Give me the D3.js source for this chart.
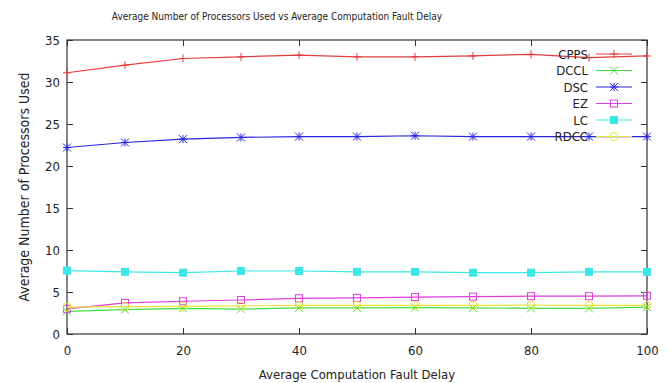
<!DOCTYPE html>
<html>
<head>
<meta charset="utf-8">
<script src="https://cdn.jsdelivr.net/npm/d3@7"></script>
<style>
  body { margin: 0; background: #fff; }
  text { font-family: "DejaVu Sans Condensed", "DejaVu Sans", sans-serif; fill: #222; }
</style>
</head>
<body>
<div id="chart"></div>
<script>
// data
var delays = [0, 10, 20, 30, 40, 50, 60, 70, 80, 90, 100];
var cpps = [31.1, 32.0, 32.8, 33.0, 33.2, 33.0, 33.0, 33.1, 33.3, 32.9, 33.1];
var dccl = [2.7, 2.9, 3.05, 2.95, 3.1, 3.1, 3.15, 3.1, 3.05, 3.05, 3.2];
var dsc = [22.2, 22.8, 23.2, 23.4, 23.5, 23.5, 23.6, 23.5, 23.5, 23.5, 23.5];
var ez = [3.0, 3.7, 3.9, 4.05, 4.25, 4.3, 4.4, 4.45, 4.5, 4.5, 4.55];
var lc = [7.55, 7.4, 7.3, 7.5, 7.5, 7.4, 7.4, 7.3, 7.3, 7.4, 7.4];
var rdcc = [3.2, 3.25, 3.3, 3.35, 3.4, 3.4, 3.4, 3.4, 3.45, 3.4, 3.4];
var seriesNames = ["CPPS", "DCCL", "DSC", "EZ", "LC", "RDCC"];
var seriesValues = [cpps, dccl, dsc, ez, lc, rdcc];
var seriesColors = ["#e03c3c", "#3ee03e", "#2626e0", "#e03ce0", "#3ce6e6", "#e6e63c"];
var seriesMarks = ["plus", "cross", "star", "square", "fsquare", "circle"];
var xTicks = [0, 20, 40, 60, 80, 100];
var yTicks = [0, 5, 10, 15, 20, 25, 30, 35];

var W = 672, H = 383;
var margin = {top: 40, right: 25, bottom: 49, left: 67};

var svg = d3.select("#chart").append("svg")
    .attr("width", W)
    .attr("height", H);

var x = d3.scaleLinear().domain([0, 100]).range([margin.left, W - margin.right]);
var y = d3.scaleLinear().domain([0, 35]).range([H - margin.bottom, margin.top]);

function marker(g, kind, color) {
    var s = 4;
    if (kind == "plus") {
        g.append("path").attr("d", "M" + -s + ",0H" + s + "M0," + -s + "V" + s)
            .attr("stroke", color).attr("fill", "none");
    } else if (kind == "cross") {
        g.append("path").attr("d", "M" + -s + "," + -s + "L" + s + "," + s + "M" + -s + "," + s + "L" + s + "," + -s)
            .attr("stroke", color).attr("fill", "none");
    } else if (kind == "star") {
        g.append("path").attr("d", "M" + -s + ",0H" + s + "M0," + -s + "V" + s +
                "M" + -s + "," + -s + "L" + s + "," + s + "M" + -s + "," + s + "L" + s + "," + -s)
            .attr("stroke", color).attr("fill", "none");
    } else if (kind == "square") {
        g.append("rect").attr("x", -3.5).attr("y", -3.5).attr("width", 7).attr("height", 7)
            .attr("stroke", color).attr("fill", "none");
    } else if (kind == "fsquare") {
        g.append("rect").attr("x", -4).attr("y", -4).attr("width", 8).attr("height", 8)
            .attr("fill", color);
    } else {
        g.append("circle").attr("r", 4).attr("stroke", color).attr("fill", "none");
    }
}

// ticks, gnuplot style: inward and mirrored
var axisColor = "#333";
var x0 = x(0), x1 = x(100), y0 = y(0), y1 = y(35);

svg.append("g").attr("transform", "translate(0," + y0 + ")")
    .call(d3.axisBottom(x).tickValues(xTicks).tickSize(-6).tickPadding(12))
    .call(function(g) { g.select(".domain").remove(); });
svg.append("g").attr("transform", "translate(0," + y1 + ")")
    .call(d3.axisTop(x).tickValues(xTicks).tickSize(-6).tickFormat(""))
    .call(function(g) { g.select(".domain").remove(); });
svg.append("g").attr("transform", "translate(" + x0 + ",0)")
    .call(d3.axisLeft(y).tickValues(yTicks).tickSize(-6).tickPadding(7))
    .call(function(g) { g.select(".domain").remove(); });
svg.append("g").attr("transform", "translate(" + x1 + ",0)")
    .call(d3.axisRight(y).tickValues(yTicks).tickSize(-6).tickFormat(""))
    .call(function(g) { g.select(".domain").remove(); });

svg.selectAll(".tick line").attr("stroke", axisColor);
svg.selectAll(".tick text").style("font-size", "13px").attr("fill", "#222")
    .style("font-family", "'DejaVu Sans Condensed', 'DejaVu Sans', sans-serif");

svg.append("rect")
    .attr("x", x0).attr("y", y1)
    .attr("width", x1 - x0).attr("height", y0 - y1)
    .attr("fill", "none").attr("stroke", axisColor).attr("stroke-width", 1.2);

// series
var line = d3.line()
    .x(function(d, i) { return x(delays[i]); })
    .y(function(d) { return y(d); });

var clipId = "plotclip";
svg.append("clipPath").attr("id", clipId).append("rect")
    .attr("x", x0 - 6).attr("y", y1).attr("width", x1 - x0 + 12).attr("height", y0 - y1 + 6);

var plot = svg.append("g").attr("clip-path", "url(#" + clipId + ")");

seriesValues.forEach(function(vals, k) {
    plot.append("path")
        .datum(vals)
        .attr("d", line)
        .attr("fill", "none")
        .attr("stroke", seriesColors[k])
        .attr("stroke-width", 1.2);
    vals.forEach(function(v, i) {
        var g = plot.append("g").attr("transform", "translate(" + x(delays[i]) + "," + y(v) + ")");
        marker(g, seriesMarks[k], seriesColors[k]);
    });
});

// legend
var legend = svg.append("g");
seriesNames.forEach(function(name, k) {
    var ly = 54 + k * 16.5;
    legend.append("text")
        .attr("x", 588).attr("y", ly).attr("dy", "0.35em")
        .attr("text-anchor", "end")
        .style("font-size", "13px")
        .text(name);
    legend.append("line")
        .attr("x1", 596).attr("x2", 632).attr("y1", ly).attr("y2", ly)
        .attr("stroke", seriesColors[k]).attr("stroke-width", 1.2);
    var g = legend.append("g").attr("transform", "translate(614," + ly + ")");
    marker(g, seriesMarks[k], seriesColors[k]);
});

// titles
svg.append("text")
    .attr("x", 277).attr("y", 20)
    .attr("text-anchor", "middle")
    .style("font-size", "10px")
    .text("Average Number of Processors Used vs Average Computation Fault Delay");

svg.append("text")
    .attr("x", (x0 + x1) / 2).attr("y", 379)
    .attr("text-anchor", "middle")
    .style("font-size", "13px")
    .text("Average Computation Fault Delay");

svg.append("text")
    .attr("transform", "translate(29," + ((y0 + y1) / 2) + ") rotate(-90)")
    .attr("text-anchor", "middle")
    .style("font-size", "14px")
    .text("Average Number of Processors Used");
</script>
</body>
</html>
